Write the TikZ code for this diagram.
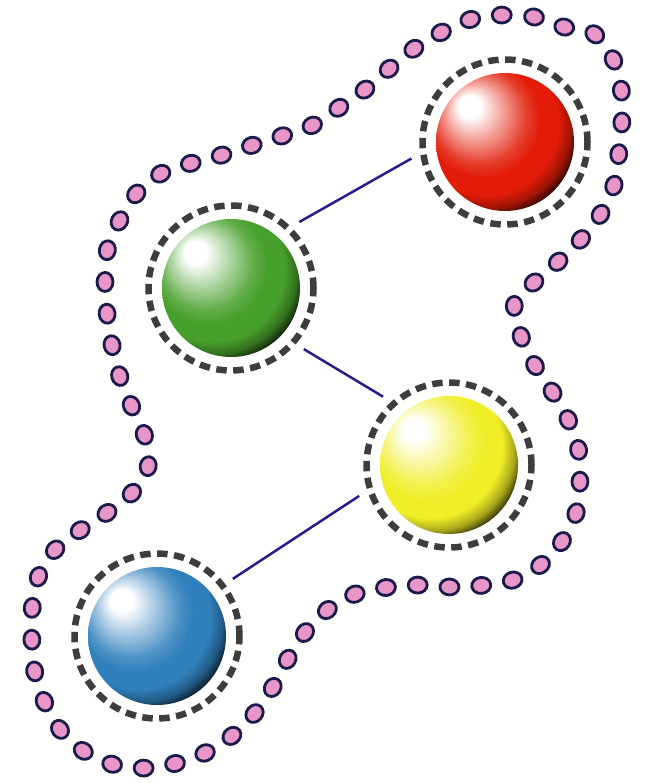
\documentclass[tikz,border=0pt]{standalone}
\usetikzlibrary{decorations.markings,shapes.geometric}
\definecolor{dotfill}{HTML}{E896C8}
\definecolor{dotline}{HTML}{1B1B4B}
\definecolor{ringgray}{HTML}{3D3D3D}
\definecolor{linkblue}{HTML}{2B1A8E}
\definecolor{cred}{RGB}{226,28,8}
\definecolor{cgreen}{RGB}{72,160,44}
\definecolor{cyellow}{RGB}{240,238,40}
\definecolor{cblue}{RGB}{48,128,188}
\colorlet{ballc}{red}
\pgfdeclareradialshading[ballc]{glossyball}{\pgfpoint{-14bp}{14bp}}{%
  color(0bp)=(white); color(4bp)=(white); color(10bp)=(ballc!40!white);
  color(17bp)=(ballc!85!white); color(21bp)=(ballc); color(26bp)=(ballc);
  color(29.5bp)=(ballc!70!black); color(32.5bp)=(ballc!15!black); color(50bp)=(black)}
\begin{document}
\begin{tikzpicture}[x=1pt,y=-1pt,
  ball/.style={circle, minimum size=138pt, inner sep=0pt, /utils/exec={\colorlet{ballc}{#1}}, shading=glossyball},
  ring/.style={circle, draw=ringgray, line width=6.5pt, dash pattern=on 10.5pt off 6.5pt,
    minimum size=165pt, inner sep=0pt, outer sep=12.5pt},
  link/.style={draw=linkblue, line width=2.5pt},
  bead/.style={ellipse, draw=dotline, fill=dotfill, line width=2.8pt, inner sep=0pt,
    minimum width=19pt, minimum height=16pt},
  beads/.style={decorate, decoration={markings,
    mark=between positions 0 and 0.99 step 0.0138889 with {\node[bead, transform shape] {};}}}]
\useasboundingbox (0,0) rectangle (645,783);
% beaded outline
\path[beads] plot[smooth cycle, tension=0.55] coordinates {
(503,15) (534,17) (564,27) (593,33) (613,59) (621,88) (622,119) (619,152) (615,182) (602,212)
(583,237) (560,260) (537,280) (515,301) (520,333) (533,362) (550,388) (567,417) (578,447) (580,478)
(577,510) (563,540) (543,563) (516,579) (485,585) (452,587) (422,585) (390,587) (358,593) (330,608)
(307,630) (289,657) (273,687) (255,713) (233,735) (207,752) (177,763) (147,768) (115,765) (85,752)
(62,732) (45,703) (35,673) (32,642) (32,610) (38,578) (54,551) (79,531) (104,515) (132,493)
(148,467) (145,437) (132,407) (120,377) (112,345) (107,313) (105,282) (108,247) (120,220) (137,193)
(162,173) (192,163) (222,155) (253,145) (285,135) (313,125) (340,107) (367,88) (390,68) (415,48)
(442,32) (472,19)};
% rings
\node[ring] (redring) at (505,142) {};
\node[ring] (greenring) at (231,288) {};
\node[ring] (yellowring) at (449,465) {};
\node[ring] (bluering) at (157,636) {};
% balls
\node[ball=cred] (red) at (505,142) {};
\node[ball=cgreen] (green) at (231,288) {};
\node[ball=cyellow] (yellow) at (449,465) {};
\node[ball=cblue] (blue) at (157,636) {};
% connectors
\draw[link] (redring.190) -- (greenring.44);
\draw[link] (greenring.-40) -- (yellowring.134);
\draw[link] (yellowring.199) -- (bluering.37);
\end{tikzpicture}
\end{document}
